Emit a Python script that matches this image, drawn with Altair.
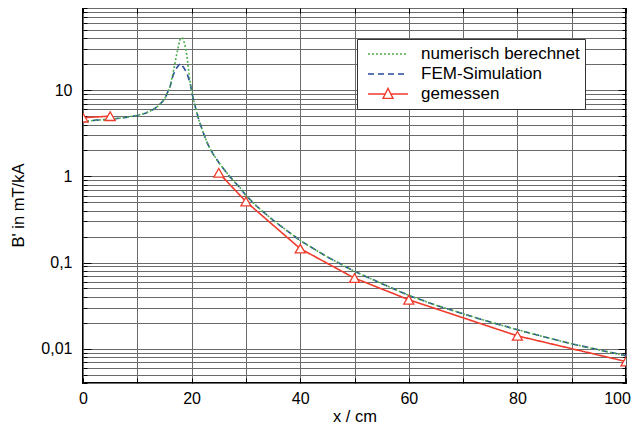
import altair as alt
import pandas as pd

# ---- data ----
fem_x = [0, 2.5, 5, 7.5, 10, 11.5, 13, 14, 15, 16, 16.6, 17.2, 17.9, 18.5, 19.1, 19.7, 20.2, 20.8, 21.3, 22, 23,
         24, 25, 26, 27, 28, 29, 30, 32, 35, 40, 45, 50, 55, 60, 65, 70, 75, 80, 85, 90, 95, 100]
fem_y = [4.3, 4.5, 4.6, 4.8, 5.1, 5.4, 6.0, 6.7, 7.8, 10.8, 15, 18, 20.5, 18.5, 16, 12.3, 8.5, 6.0, 4.6, 3.4, 2.35,
         1.8, 1.45, 1.2, 1.0, 0.85, 0.73, 0.6, 0.45, 0.31, 0.18, 0.116, 0.079, 0.057, 0.0415, 0.032, 0.0254,
         0.0204, 0.0166, 0.0137, 0.0114, 0.0097, 0.0083]
num_x = [0, 2.5, 5, 7.5, 10, 11.5, 13, 14, 15, 16, 16.6, 17.25, 17.9, 18.4, 18.8, 19.1, 19.7, 20.2, 20.8, 21.3, 22, 23,
         24, 25, 26, 27, 28, 29, 30, 32, 35, 40, 45, 50, 55, 60, 65, 70, 75, 80, 85, 90, 95, 100]
num_y = [4.3, 4.5, 4.6, 4.8, 5.1, 5.4, 6.0, 6.7, 7.8, 10.8, 16, 26, 40, 40, 33, 26, 12.7, 8.5, 6.0, 4.6, 3.4, 2.35,
         1.8, 1.45, 1.2, 1.0, 0.85, 0.73, 0.6, 0.45, 0.31, 0.18, 0.116, 0.079, 0.057, 0.0415, 0.032, 0.0254,
         0.0204, 0.0166, 0.0137, 0.0114, 0.0097, 0.0083]
mes_x = [0, 5, 25, 30, 40, 50, 60, 80, 100]
mes_y = [4.8, 5.0, 1.1, 0.51, 0.145, 0.066, 0.037, 0.0141, 0.0071]
mes_seg = ["m1", "m1", "m2", "m2", "m2", "m2", "m2", "m2", "m2"]

series_names = ["numerisch berechnet", "FEM-Simulation", "gemessen"]
series_colors = ["#4cae4c", "#2a489c", "#ef3b2c"]
series_dash = [[2, 2], [6, 4], [1, 0]]

x_ticks = [0, 10, 20, 30, 40, 50, 60, 70, 80, 90, 100]
x_labels = {0: "0", 20: "20", 40: "40", 60: "60", 80: "80", 100: "100"}
y_ticks = [0.004, 0.005, 0.006, 0.007, 0.008, 0.009,
           0.01, 0.02, 0.03, 0.04, 0.05, 0.06, 0.07, 0.08, 0.09,
           0.1, 0.2, 0.3, 0.4, 0.5, 0.6, 0.7, 0.8, 0.9,
           1, 2, 3, 4, 5, 6, 7, 8, 9,
           10, 20, 30, 40, 50, 60, 70, 80, 90]
y_labels = {0.01: "0,01", 0.1: "0,1", 1: "1", 10: "10"}

# ---- tables ----
rows = []
for x, y in zip(fem_x, fem_y):
    rows.append({"x": x, "y": y, "series": "FEM-Simulation", "seg": "fem"})
for x, y in zip(num_x, num_y):
    rows.append({"x": x, "y": y, "series": "numerisch berechnet", "seg": "num"})
for x, y, s in zip(mes_x, mes_y, mes_seg):
    rows.append({"x": x, "y": y, "series": "gemessen", "seg": s})
df = pd.DataFrame(rows)
mes_df = pd.DataFrame({"x": mes_x, "y": mes_y})

FONT = "Liberation Sans"

def build_expr(mapping):
    parts = []
    for v, t in mapping.items():
        parts.append(f"datum.value == {v} ? '{t}'")
    return " : ".join(parts) + " : ''"

x_label_expr = build_expr(x_labels)
y_label_expr = build_expr(y_labels)
major_list = "[" + ",".join(str(v) for v in y_labels.keys()) + "]"
y_tick_size = {"expr": f"indexof({major_list}, datum.value) >= 0 ? -8 : -4"}
x_tick_size = {"expr": "-5"}

xscale = alt.Scale(domain=[0, 100], nice=False, zero=False)
yscale = alt.Scale(type="log", domain=[0.004, 90], nice=False)

common_axis = dict(domain=False, tickColor="black", tickWidth=1,
                   labelFont=FONT, labelFontSize=16, labelColor="black",
                   titleFont=FONT, titleFontSize=16.5, titleFontWeight="normal", titleColor="black",
                   gridColor="#6a6a6a", gridWidth=1, gridOpacity=1,
                   labelFlush=False, labelOverlap=False)

x_bottom = alt.Axis(orient="bottom", values=x_ticks, labelExpr=x_label_expr, title="x / cm",
                    grid=True, tickSize=x_tick_size, labelPadding=12, titlePadding=2,
                    labelOffset={"expr": "datum.value == 100 ? -9 : 0"}, **common_axis)
y_left = alt.Axis(orient="left", values=y_ticks, labelExpr=y_label_expr, title="B' in mT/kA",
                  grid=True, tickSize=y_tick_size, labelPadding=19,
                  titleX=-57, titleY=197, titleAngle=270, titleAlign="center", titleBaseline="bottom",
                  **common_axis)
x_top = alt.Axis(orient="top", values=x_ticks, labels=False, title=None, grid=False,
                 tickSize=x_tick_size, domain=False, tickColor="black", tickWidth=1)
y_right = alt.Axis(orient="right", values=y_ticks, labels=False, title=None, grid=False,
                   tickSize=y_tick_size, domain=False, tickColor="black", tickWidth=1)

legend_path = "M-1,0L-0.14,0M0.14,0L1,0M-0.25,0.22L0,-0.28L0.25,0.22Z"
legend = alt.Legend(
    title=None, orient="none", legendX=274, legendY=31,
    fillColor="white", strokeColor="#333333", padding=5,
    symbolOffset=5, labelOffset=12, symbolSize=1600, clipHeight=20, rowPadding=0,
    symbolStrokeWidth=1.4, labelFont=FONT, labelFontSize=17, labelColor="black", labelLimit=400,
    symbolType={"expr": f"datum.value == 'gemessen' ? '{legend_path}' : 'stroke'"},
)

lines = alt.Chart(df).mark_line(strokeWidth=1.6, clip=True).encode(
    x=alt.X("x:Q", scale=xscale, axis=x_bottom),
    y=alt.Y("y:Q", scale=yscale, axis=y_left),
    color=alt.Color("series:N", scale=alt.Scale(domain=series_names, range=series_colors), legend=legend),
    strokeDash=alt.StrokeDash("series:N", scale=alt.Scale(domain=series_names, range=series_dash), legend=legend),
    detail="seg:N",
)

points = alt.Chart(mes_df).mark_point(
    shape="triangle-up", size=100, fill="white", stroke=series_colors[2],
    strokeWidth=1.3, opacity=1, fillOpacity=1, clip=True
).encode(
    x=alt.X("x:Q", scale=xscale, axis=x_top),
    y=alt.Y("y:Q", scale=yscale, axis=y_right),
)

chart = alt.layer(lines, points).resolve_axis(x="independent", y="independent").properties(
    width=543, height=375,
    padding={"left": 75, "top": 0, "right": 7, "bottom": 41},
    autosize=alt.AutoSizeParams(type="none"),
    background="white",
).configure_view(stroke="black", strokeWidth=2)

chart.save("out.html", embed_options={"renderer": "svg", "actions": False})
